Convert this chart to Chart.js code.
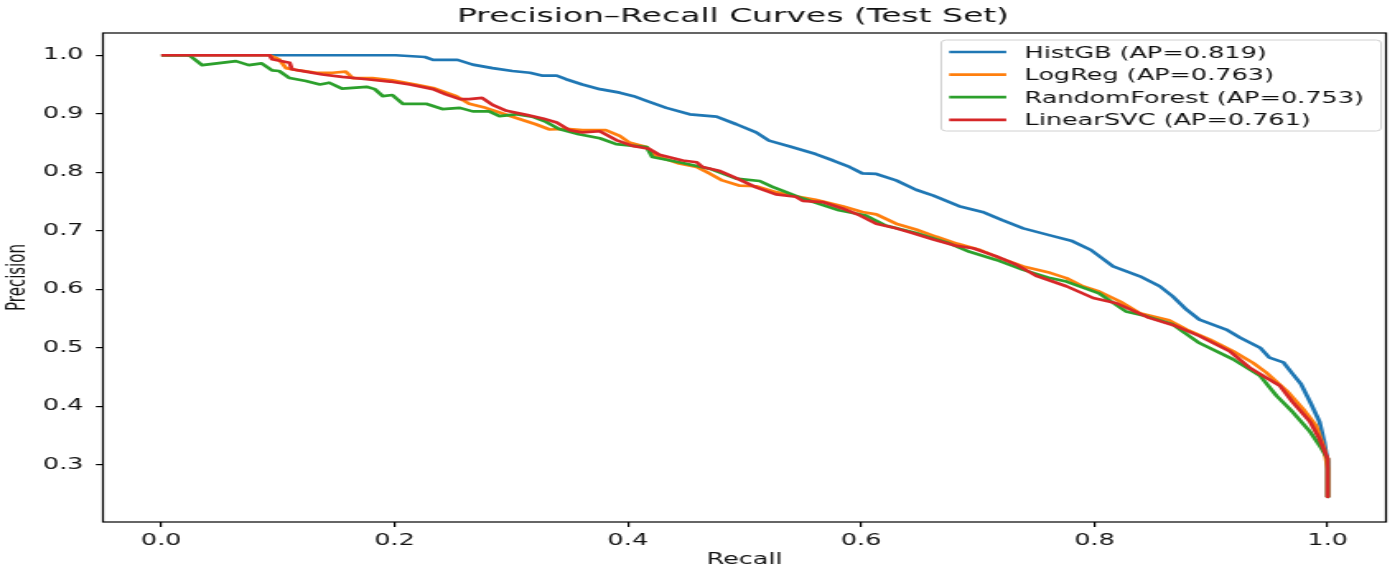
<!DOCTYPE html>
<html><head><meta charset="utf-8">
<script src="https://cdn.jsdelivr.net/npm/chart.js@4.4.1/dist/chart.umd.min.js"></script>
<style>
html,body{margin:0;padding:0;background:#fff;overflow:hidden;}
#wrap{position:absolute;left:0;top:0;width:850px;height:571px;transform:scaleX(1.647059);transform-origin:0 0;}
canvas{display:block;}
</style></head><body>
<div id="wrap"><canvas id="c" width="850" height="571" style="width:850px;height:571px"></canvas></div>
<script>
const chartTitle = 'Precision–Recall Curves (Test Set)';
const xLabel = 'Recall';
const yLabel = 'Precision';
const modelNames = ['HistGB', 'LogReg', 'RandomForest', 'LinearSVC'];
const apValues = [0.819, 0.763, 0.753, 0.761];
const colors = ['#1f77b4', '#ff7f0e', '#2ca02c', '#d62728'];
const xTicks = [0.0, 0.2, 0.4, 0.6, 0.8, 1.0];
const xTickLabels = ['0.0', '0.2', '0.4', '0.6', '0.8', '1.0'];
const yTicks = [0.3, 0.4, 0.5, 0.6, 0.7, 0.8, 0.9, 1.0];
const yTickLabels = ['0.3', '0.4', '0.5', '0.6', '0.7', '0.8', '0.9', '1.0'];

const histgbRecall = [0, 0.201, 0.226, 0.233, 0.254, 0.267, 0.284, 0.301, 0.316, 0.327, 0.339, 0.347, 0.361, 0.376, 0.393, 0.405, 0.416, 0.433, 0.453, 0.476, 0.493, 0.510, 0.521, 0.539, 0.561, 0.576, 0.590, 0.601, 0.613, 0.630, 0.647, 0.662, 0.684, 0.704, 0.721, 0.739, 0.762, 0.780, 0.797, 0.816, 0.839, 0.856, 0.867, 0.879, 0.890, 0.913, 0.925, 0.942, 0.950, 0.962, 0.970, 0.977, 0.985, 0.993, 0.997, 1.0, 1.0];
const histgbPrecision = [1.0, 1.0, 0.997, 0.992, 0.992, 0.984, 0.978, 0.973, 0.970, 0.965, 0.965, 0.959, 0.950, 0.942, 0.936, 0.930, 0.922, 0.910, 0.899, 0.895, 0.882, 0.868, 0.854, 0.844, 0.831, 0.820, 0.809, 0.798, 0.797, 0.786, 0.770, 0.760, 0.742, 0.732, 0.718, 0.704, 0.692, 0.683, 0.667, 0.639, 0.622, 0.605, 0.588, 0.565, 0.548, 0.531, 0.517, 0.500, 0.483, 0.475, 0.455, 0.438, 0.407, 0.373, 0.339, 0.305, 0.245];

const logregRecall = [0, 0.093, 0.101, 0.107, 0.118, 0.133, 0.147, 0.158, 0.164, 0.181, 0.198, 0.218, 0.233, 0.253, 0.264, 0.278, 0.290, 0.307, 0.321, 0.333, 0.347, 0.361, 0.381, 0.393, 0.401, 0.416, 0.424, 0.444, 0.459, 0.470, 0.481, 0.496, 0.510, 0.527, 0.544, 0.561, 0.584, 0.601, 0.613, 0.630, 0.647, 0.664, 0.682, 0.702, 0.719, 0.739, 0.762, 0.776, 0.790, 0.804, 0.822, 0.839, 0.864, 0.879, 0.899, 0.919, 0.936, 0.947, 0.965, 0.979, 0.990, 0.997, 1.0, 1.0];
const logregPrecision = [1.0, 1.0, 0.993, 0.978, 0.974, 0.970, 0.970, 0.972, 0.961, 0.961, 0.957, 0.950, 0.944, 0.930, 0.917, 0.910, 0.902, 0.891, 0.882, 0.873, 0.874, 0.872, 0.872, 0.862, 0.851, 0.843, 0.828, 0.815, 0.809, 0.798, 0.786, 0.777, 0.776, 0.766, 0.759, 0.753, 0.742, 0.732, 0.728, 0.712, 0.702, 0.690, 0.678, 0.667, 0.653, 0.639, 0.628, 0.619, 0.605, 0.596, 0.579, 0.559, 0.547, 0.531, 0.514, 0.494, 0.474, 0.458, 0.426, 0.395, 0.367, 0.327, 0.293, 0.245];

const rfRecall = [0, 0.024, 0.035, 0.064, 0.075, 0.086, 0.095, 0.101, 0.110, 0.124, 0.136, 0.144, 0.155, 0.176, 0.183, 0.190, 0.198, 0.207, 0.227, 0.241, 0.256, 0.267, 0.281, 0.290, 0.304, 0.318, 0.330, 0.341, 0.358, 0.376, 0.390, 0.416, 0.421, 0.444, 0.470, 0.493, 0.513, 0.524, 0.533, 0.550, 0.581, 0.604, 0.621, 0.647, 0.676, 0.693, 0.716, 0.739, 0.762, 0.776, 0.804, 0.827, 0.844, 0.867, 0.890, 0.919, 0.942, 0.956, 0.970, 0.985, 0.993, 1.0, 1.0];
const rfPrecision = [1.0, 1.0, 0.983, 0.990, 0.983, 0.986, 0.974, 0.973, 0.961, 0.956, 0.950, 0.953, 0.943, 0.946, 0.942, 0.930, 0.932, 0.917, 0.917, 0.908, 0.910, 0.904, 0.904, 0.896, 0.899, 0.895, 0.886, 0.874, 0.865, 0.858, 0.848, 0.843, 0.826, 0.817, 0.806, 0.789, 0.785, 0.775, 0.768, 0.755, 0.735, 0.726, 0.709, 0.696, 0.678, 0.664, 0.650, 0.633, 0.619, 0.613, 0.593, 0.562, 0.554, 0.540, 0.508, 0.480, 0.452, 0.418, 0.390, 0.356, 0.333, 0.310, 0.245];

const svcRecall = [0, 0.093, 0.095, 0.110, 0.112, 0.124, 0.138, 0.155, 0.176, 0.196, 0.213, 0.233, 0.244, 0.256, 0.264, 0.275, 0.284, 0.296, 0.313, 0.327, 0.339, 0.350, 0.361, 0.376, 0.390, 0.404, 0.418, 0.427, 0.447, 0.459, 0.464, 0.479, 0.493, 0.510, 0.527, 0.544, 0.550, 0.567, 0.584, 0.599, 0.613, 0.630, 0.644, 0.662, 0.682, 0.696, 0.716, 0.733, 0.750, 0.776, 0.799, 0.819, 0.847, 0.870, 0.890, 0.916, 0.933, 0.947, 0.959, 0.970, 0.985, 0.993, 1.0, 1.0];
const svcPrecision = [1.0, 1.0, 0.993, 0.987, 0.976, 0.972, 0.967, 0.963, 0.959, 0.955, 0.950, 0.942, 0.933, 0.925, 0.925, 0.927, 0.915, 0.905, 0.898, 0.892, 0.885, 0.872, 0.868, 0.870, 0.855, 0.845, 0.840, 0.830, 0.820, 0.817, 0.809, 0.802, 0.790, 0.774, 0.762, 0.758, 0.751, 0.749, 0.738, 0.726, 0.712, 0.704, 0.696, 0.685, 0.674, 0.670, 0.656, 0.642, 0.623, 0.605, 0.585, 0.576, 0.551, 0.537, 0.520, 0.494, 0.466, 0.449, 0.435, 0.407, 0.373, 0.344, 0.310, 0.245];

const recalls = [histgbRecall, logregRecall, rfRecall, svcRecall];
const precisions = [histgbPrecision, logregPrecision, rfPrecision, svcPrecision];

const FONT = '"DejaVu Sans", "Liberation Sans", sans-serif';
const TEXT = '#111';

const datasets = modelNames.map((name, k) => ({
  label: name + ' (AP=' + apValues[k].toFixed(3) + ')',
  data: recalls[k].map((r, i) => ({x: r, y: precisions[k][i]})),
  borderColor: colors[k],
  backgroundColor: colors[k],
  borderWidth: 2.7,
  pointRadius: 0,
  showLine: true,
  fill: false,
  tension: 0,
  borderJoinStyle: 'round',
  order: modelNames.length - k
}));

const framePlugin = {
  id: 'frame',
  afterDatasetsDraw(chart) {
    const {ctx, chartArea: a} = chart;
    ctx.save();
    ctx.strokeStyle = '#000';
    ctx.lineWidth = 1.2;
    ctx.strokeRect(a.left, a.top, a.right - a.left, a.bottom - a.top);
    ctx.restore();
  }
};

const titlePlugin = {
  id: 'mplTitle',
  afterDraw(chart) {
    const {ctx, chartArea: a} = chart;
    ctx.save();
    ctx.font = '20px ' + FONT;
    ctx.fillStyle = TEXT;
    ctx.textAlign = 'center';
    ctx.textBaseline = 'middle';
    ctx.fillText(chartTitle, (a.left + a.right) / 2 - 7, a.top - 16);
    ctx.restore();
  }
};

const legendPlugin = {
  id: 'mplLegend',
  afterDraw(chart) {
    const {ctx, chartArea: a} = chart;
    ctx.save();
    ctx.font = '15.5px ' + FONT;
    const labels = chart.data.datasets.map(d => d.label);
    const maxW = Math.max(...labels.map(t => ctx.measureText(t).width));
    const boxR = a.right - 3;
    const boxL = boxR - (maxW + 61);
    const boxT = a.top + 7;
    const boxB = a.top + 98;
    ctx.beginPath();
    ctx.roundRect(boxL, boxT, boxR - boxL, boxB - boxT, 3);
    ctx.fillStyle = 'rgba(255,255,255,0.85)';
    ctx.fill();
    ctx.strokeStyle = '#d0d0d0';
    ctx.lineWidth = 1;
    ctx.stroke();
    ctx.textBaseline = 'middle';
    ctx.textAlign = 'left';
    chart.data.datasets.forEach((d, i) => {
      const y = boxT + 12 + i * 22.6;
      ctx.beginPath();
      ctx.moveTo(boxL + 4.8, y);
      ctx.lineTo(boxL + 39.5, y);
      ctx.strokeStyle = d.borderColor;
      ctx.lineWidth = 2.7;
      ctx.stroke();
      ctx.fillStyle = TEXT;
      ctx.fillText(d.label, boxL + 50.6, y + 1.5);
    });
    ctx.restore();
  }
};

new Chart(document.getElementById('c'), {
  type: 'scatter',
  data: {datasets},
  options: {
    responsive: false,
    maintainAspectRatio: false,
    animation: false,
    devicePixelRatio: 1,
    layout: {padding: {left: 0, right: 8.5, top: 33, bottom: 0}},
    plugins: {
      legend: {display: false},
      tooltip: {enabled: false},
      title: {display: false}
    },
    scales: {
      x: {
        type: 'linear', min: -0.05, max: 1.05,
        afterBuildTicks: s => { s.ticks = xTicks.map(v => ({value: v})); },
        afterFit: s => { s.height = 49; },
        ticks: {
          callback: (v, i) => xTickLabels[i],
          color: TEXT, font: {family: FONT, size: 15.5}, padding: 5,
          maxRotation: 0, autoSkip: false
        },
        grid: {display: true, drawOnChartArea: false, drawTicks: true, tickLength: 5, color: '#000', lineWidth: 1.2},
        border: {display: false},
        title: {display: true, text: xLabel, color: TEXT, font: {family: FONT, size: 15.5}, padding: {top: 0, bottom: 1.7}}
      },
      y: {
        type: 'linear', min: 0.202, max: 1.038,
        afterBuildTicks: s => { s.ticks = yTicks.map(v => ({value: v})); },
        afterFit: s => { s.width = 62.5; },
        ticks: {
          callback: (v, i) => yTickLabels[i],
          color: TEXT, font: {family: FONT, size: 15.5}, padding: 7.5, autoSkip: false
        },
        grid: {display: true, drawOnChartArea: false, drawTicks: true, tickLength: 4.3, color: '#000', lineWidth: 1.2},
        border: {display: false},
        title: {display: true, text: yLabel, color: TEXT, font: {family: FONT, size: 15}, padding: {top: 2.6, bottom: 0}}
      }
    }
  },
  plugins: [framePlugin, titlePlugin, legendPlugin]
});
</script>
</body></html>
